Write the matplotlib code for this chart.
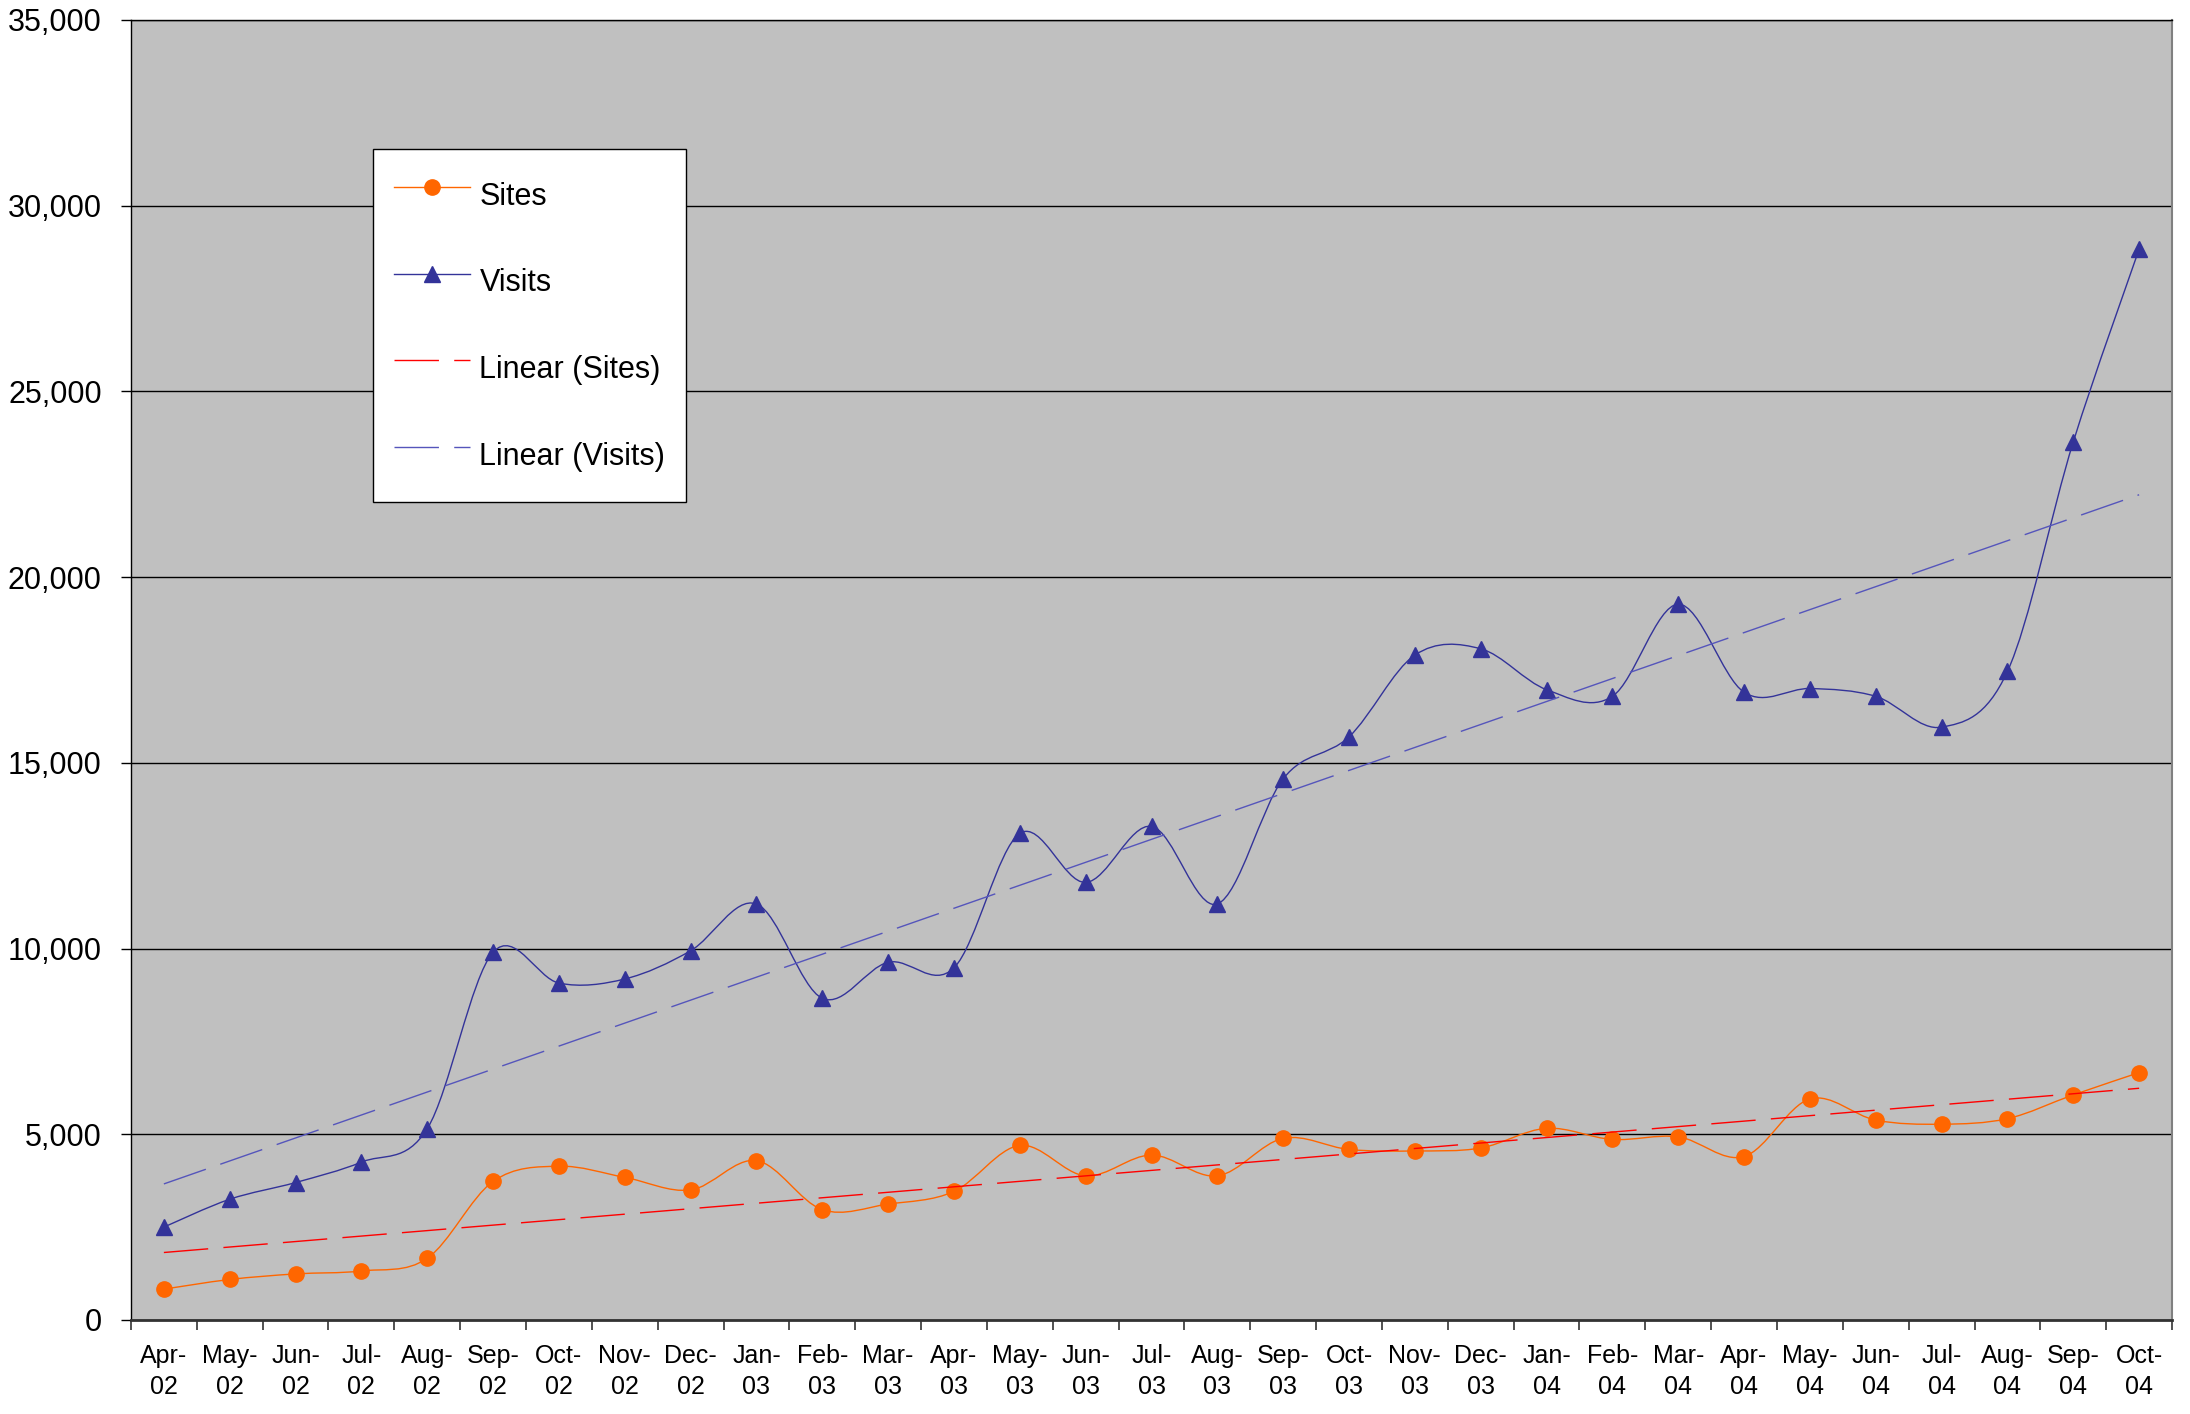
import matplotlib
matplotlib.use("Agg")
import matplotlib.pyplot as plt
import numpy as np
from matplotlib.path import Path
from matplotlib.patches import PathPatch
from matplotlib.lines import Line2D
from matplotlib.ticker import StrMethodFormatter

plt.rcParams['font.family'] = ['Liberation Sans', 'DejaVu Sans']

months = ['Apr-02', 'May-02', 'Jun-02', 'Jul-02', 'Aug-02', 'Sep-02', 'Oct-02',
          'Nov-02', 'Dec-02', 'Jan-03', 'Feb-03', 'Mar-03', 'Apr-03', 'May-03',
          'Jun-03', 'Jul-03', 'Aug-03', 'Sep-03', 'Oct-03', 'Nov-03', 'Dec-03',
          'Jan-04', 'Feb-04', 'Mar-04', 'Apr-04', 'May-04', 'Jun-04', 'Jul-04',
          'Aug-04', 'Sep-04', 'Oct-04']

sites = [830, 1090, 1240, 1320, 1660, 3730, 4140, 3840, 3500, 4290, 2970,
         3120, 3460, 4700, 3880, 4440, 3880, 4890, 4590, 4550, 4630, 5160,
         4860, 4930, 4400, 5950, 5380, 5270, 5420, 6060, 6660]

visits = [2500, 3250, 3700, 4250, 5150, 9900, 9070, 9180, 9940, 11200, 8660,
          9630, 9480, 13100, 11780, 13290, 11200, 14570, 15700, 17900, 18070,
          16970, 16790, 19270, 16900, 17000, 16790, 15960, 17460, 23640, 28830]

C_SITES = '#FF6600'
C_VISITS = '#333399'
C_TSITES = '#FF0000'
C_TVISITS = '#5555BB'


def smooth_path(x, y):
    # Excel-style smoothed line: cubic bezier through every point
    p = np.column_stack([x, y]).astype(float)
    n = len(p)
    verts = [p[0]]
    codes = [Path.MOVETO]
    for i in range(n - 1):
        p0 = p[max(i - 1, 0)]
        p1 = p[i]
        p2 = p[i + 1]
        p3 = p[min(i + 2, n - 1)]
        c1 = p1 + (p2 - p0) / 6.0
        c2 = p2 - (p3 - p1) / 6.0
        verts += [c1, c2, p2]
        codes += [Path.CURVE4] * 3
    return Path(verts, codes)


x = np.arange(len(months))

fig = plt.figure(figsize=(21.9, 14.14), dpi=100)
ax = fig.add_axes([0.0598, 0.0665, 0.932, 0.9194])
ax.set_facecolor('#C0C0C0')

for ys, col in [(sites, C_SITES), (visits, C_VISITS)]:
    ax.add_patch(PathPatch(smooth_path(x, ys), facecolor='none',
                           edgecolor=col, lw=1.0, zorder=3))

ax.plot(x, sites, 'o', color=C_SITES, ms=11, mec=C_SITES, zorder=4)
ax.plot(x, visits, '^', color=C_VISITS, ms=12, mec=C_VISITS, zorder=4)

# linear trendlines
for ys, col in [(sites, C_TSITES), (visits, C_TVISITS)]:
    k, b = np.polyfit(x, ys, 1)
    ax.plot(x[[0, -1]], k * x[[0, -1]] + b, color=col, lw=1.0,
            dashes=(32, 11), zorder=5)

ax.set_xlim(-0.5, len(months) - 0.5)
ax.set_ylim(0, 35000)
ax.set_yticks(np.arange(0, 35001, 5000))
ax.yaxis.set_major_formatter(StrMethodFormatter('{x:,.0f}'))
ax.grid(axis='y', color='black', lw=1.0, zorder=1)
ax.set_axisbelow(True)

ax.set_xticks(x)
ax.set_xticklabels([m.replace('-', '-\n') for m in months], linespacing=1.37)
ax.set_xticks(np.arange(len(months) + 1) - 0.5, minor=True)
ax.tick_params(axis='x', which='major', length=0, pad=17.5, labelsize=18)
ax.tick_params(axis='x', which='minor', length=7, width=1.2, color='#333333')
ax.tick_params(axis='y', length=7, width=1.0, pad=14, labelsize=22)

ax.spines['left'].set_color('black')
ax.spines['left'].set_linewidth(1.0)
ax.spines['bottom'].set_color('#333333')
ax.spines['bottom'].set_linewidth(2.0)
ax.spines['right'].set_color('#808080')
ax.spines['right'].set_linewidth(1.5)
ax.spines['top'].set_color('black')
ax.spines['top'].set_linewidth(1.0)

handles = [
    Line2D([], [], color=C_SITES, lw=1.0, marker='o', ms=11),
    Line2D([], [], color=C_VISITS, lw=1.0, marker='^', ms=12),
    Line2D([], [], color=C_TSITES, lw=1.0, dashes=(32, 11)),
    Line2D([], [], color=C_TVISITS, lw=1.0, dashes=(32, 11)),
]
labels = ['Sites', 'Visits', 'Linear (Sites)', 'Linear (Visits)']
leg = ax.legend(handles, labels, loc='upper left',
                bbox_to_anchor=(0.1186, 0.9008), borderaxespad=0,
                fontsize=22, numpoints=1, handlelength=2.5, handleheight=2.2,
                handletextpad=0.3, labelspacing=1.16, borderpad=0.68,
                fancybox=False, framealpha=1, edgecolor='black')
leg.get_frame().set_linewidth(1.0)

fig.savefig('out.png', dpi=100)
